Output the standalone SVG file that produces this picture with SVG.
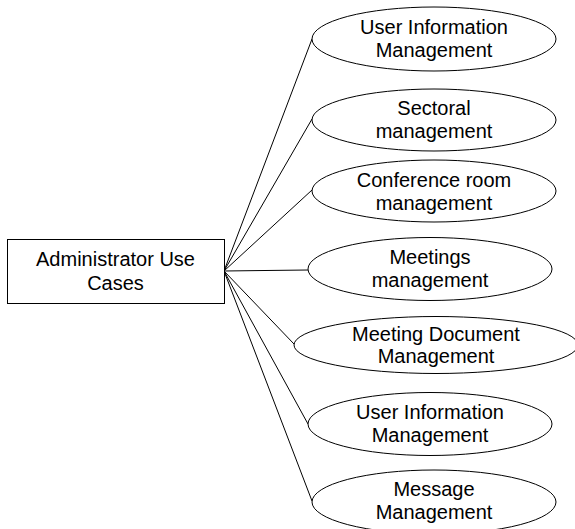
<svg xmlns="http://www.w3.org/2000/svg" width="575" height="529" viewBox="0 0 575 529">
<style>
.n{fill:#fff;stroke:#000;stroke-width:1}
.t{font-family:"Liberation Sans",Arial,sans-serif;font-size:20px;fill:#000;text-anchor:middle}
.c line{stroke:#000;stroke-width:1}
</style>
<rect width="575" height="529" fill="#fff"/>
<g id="connectors" class="c">
<line x1="224" y1="271" x2="312" y2="39"/>
<line x1="224" y1="271" x2="312" y2="119"/>
<line x1="224" y1="271" x2="312" y2="190"/>
<line x1="224" y1="271" x2="308" y2="270"/>
<line x1="224" y1="271" x2="294" y2="344"/>
<line x1="224" y1="271" x2="308" y2="424"/>
<line x1="224" y1="271" x2="312" y2="501"/>
</g>
<g id="admin">
<rect class="n" x="7.5" y="239.5" width="217" height="64" stroke-width="1.2"/>
<text class="t" x="115.5" y="266">Administrator Use</text>
<text class="t" x="115.5" y="290">Cases</text>
</g>
<g id="uc1">
<ellipse class="n" cx="434" cy="39" rx="122" ry="32"/>
<text class="t" x="434" y="34">User Information</text>
<text class="t" x="434" y="57">Management</text>
</g>
<g id="uc2">
<ellipse class="n" cx="434" cy="120" rx="122" ry="31"/>
<text class="t" x="434" y="115">Sectoral</text>
<text class="t" x="434" y="138">management</text>
</g>
<g id="uc3">
<ellipse class="n" cx="434" cy="191" rx="122" ry="31"/>
<text class="t" x="434" y="187">Conference room</text>
<text class="t" x="434" y="210">management</text>
</g>
<g id="uc4">
<ellipse class="n" cx="430" cy="269" rx="122" ry="31.5"/>
<text class="t" x="430" y="264">Meetings</text>
<text class="t" x="430" y="287">management</text>
</g>
<g id="uc5">
<ellipse class="n" cx="436" cy="345" rx="142" ry="28.5"/>
<text class="t" x="436" y="341">Meeting Document</text>
<text class="t" x="436" y="363">Management</text>
</g>
<g id="uc6">
<ellipse class="n" cx="430" cy="424" rx="122" ry="31.5"/>
<text class="t" x="430" y="419">User Information</text>
<text class="t" x="430" y="442">Management</text>
</g>
<g id="uc7">
<ellipse class="n" cx="434" cy="502" rx="122" ry="32"/>
<text class="t" x="434" y="496">Message</text>
<text class="t" x="434" y="519">Management</text>
</g>
</svg>
